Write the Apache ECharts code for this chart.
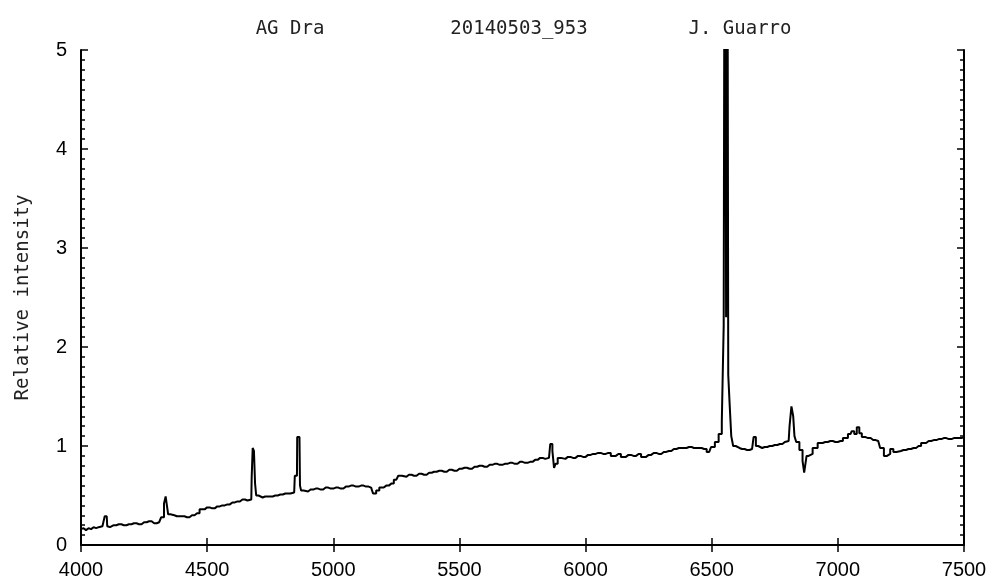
<!DOCTYPE html>
<html>
<head>
<meta charset="utf-8">
<script src="https://cdn.jsdelivr.net/npm/echarts@6/dist/echarts.min.js"></script>
<style>
  html, body { margin: 0; padding: 0; background: #fff; }
  #main { width: 992px; height: 583px; }
</style>
</head>
<body>
<div id="main"></div>
<script>
// spectrum (wavelength in Angstrom, relative intensity)
var wavelength = [
  4000,4010,4020,4030,4040,4050,4060,4070,4085,4092,4096,4102,4106,4115,4130,4150,4170,4190,4210,4230,
  4250,4270,4290,4310,4325,4333,4338,4343,4348,4360,4380,4400,4420,4440,4460,4480,4500,4520,4540,4560,
  4580,4600,4620,4640,4660,4675,4678,4683,4688,4692,4697,4710,4730,4750,4770,4790,4810,4830,4845,4850,
  4856,4858,4866,4870,4875,4890,4910,4930,4950,4970,4990,5010,5030,5050,5070,5090,5110,5130,5150,5165,
  5175,5190,5210,5230,5250,5265,5280,5300,5320,5340,5360,5380,5400,5420,5440,5460,5480,5500,5520,5540,
  5560,5580,5600,5620,5640,5660,5680,5700,5720,5740,5760,5780,5800,5820,5840,5855,5865,5872,5878,5884,
  5895,5910,5930,5950,5970,5990,6010,6030,6050,6070,6090,6110,6130,6150,6170,6190,6210,6230,6250,6270,
  6290,6310,6330,6350,6370,6390,6410,6430,6450,6470,6490,6505,6520,6535,6545,6550,6555,6559,6563,6568,
  6575,6580,6590,6600,6620,6640,6660,6672,6678,6690,6710,6730,6750,6770,6790,6805,6812,6820,6826,6830,
  6840,6855,6865,6868,6874,6878,6890,6910,6930,6950,6970,6990,7010,7030,7050,7060,7070,7080,7090,7100,
  7120,7140,7160,7175,7190,7200,7215,7225,7240,7260,7280,7300,7320,7340,7360,7380,7400,7420,7440,7460,
  7480,7500
];
var intensity = [
  0.16,0.17,0.15,0.17,0.16,0.18,0.17,0.18,0.19,0.20,0.29,0.29,0.19,0.18,0.20,0.21,0.20,0.21,0.22,0.21,
  0.23,0.24,0.22,0.23,0.28,0.42,0.49,0.40,0.31,0.30,0.29,0.29,0.28,0.30,0.32,0.36,0.38,0.37,0.39,0.40,
  0.41,0.43,0.44,0.46,0.45,0.46,0.68,0.98,0.95,0.62,0.50,0.48,0.49,0.49,0.50,0.51,0.52,0.52,0.53,0.70,
  0.70,1.09,1.09,0.60,0.55,0.54,0.56,0.57,0.56,0.58,0.57,0.58,0.57,0.59,0.60,0.59,0.60,0.59,0.58,0.52,
  0.55,0.58,0.60,0.62,0.66,0.70,0.69,0.71,0.70,0.72,0.71,0.73,0.74,0.75,0.74,0.76,0.75,0.77,0.78,0.77,
  0.79,0.80,0.79,0.81,0.82,0.81,0.82,0.83,0.82,0.84,0.83,0.84,0.86,0.88,0.87,0.88,1.02,0.95,0.78,0.82,
  0.88,0.87,0.89,0.88,0.90,0.89,0.91,0.92,0.93,0.92,0.93,0.90,0.92,0.89,0.91,0.90,0.92,0.89,0.91,0.93,
  0.92,0.94,0.95,0.97,0.98,0.98,0.99,0.98,0.98,0.97,0.94,0.99,1.04,1.12,1.25,2.22,9.00,2.30,9.00,1.72,
  1.40,1.10,1.00,0.98,0.97,0.96,0.97,1.09,1.00,0.98,0.99,1.00,1.01,1.02,1.04,1.05,1.20,1.40,1.30,1.10,
  1.04,0.96,0.85,0.73,0.73,0.90,0.92,0.98,1.03,1.04,1.05,1.04,1.05,1.08,1.12,1.15,1.12,1.19,1.13,1.09,
  1.08,1.06,1.05,0.98,0.90,0.92,0.97,0.94,0.95,0.96,0.97,0.98,1.00,1.03,1.05,1.06,1.07,1.08,1.07,1.08,
  1.08,1.09
];
var titleParts = ['AG Dra', '20140503_953', 'J. Guarro'];
var xTicks = [4000, 4500, 5000, 5500, 6000, 6500, 7000, 7500];

var points = wavelength.map(function (w, i) { return [w, intensity[i]]; });

var myChart = echarts.init(document.getElementById('main'));

var mono = 'DejaVu Sans Mono';
var frame = { lineStyle: { color: '#000', width: 2 } };
var tick = { inside: true, length: 7, lineStyle: { color: '#000', width: 1.5 } };
var minor = { show: true, splitNumber: 10, length: 4, lineStyle: { color: '#000', width: 1.5 } };
var titleStyle = { fontFamily: mono, fontSize: 19, fontWeight: 'normal', color: '#222' };

myChart.setOption({
    backgroundColor: '#fff',
    animation: false,
    title: [
        { text: titleParts[0], left: 285, top: 15, textAlign: 'center', textStyle: titleStyle },
        { text: titleParts[1], left: 514, top: 15, textAlign: 'center', textStyle: titleStyle },
        { text: titleParts[2], left: 735, top: 15, textAlign: 'center', textStyle: titleStyle }
    ],
    grid: { left: 81, right: 28, top: 50, bottom: 38 },
    xAxis: [{
        type: 'value', min: xTicks[0], max: xTicks[xTicks.length - 1], interval: 500,
        axisLine: frame,
        axisTick: tick,
        axisLabel: {
            margin: 15, color: '#000', fontSize: 20, fontFamily: 'Liberation Sans',
            formatter: function (v) { return String(v); }
        },
        splitLine: { show: false }
    }, {
        type: 'value', position: 'top', min: 4000, max: 7500, interval: 500,
        axisLine: frame,
        axisTick: tick,
        axisLabel: { show: false },
        splitLine: { show: false }
    }],
    yAxis: [{
        type: 'value', min: 0, max: 5, interval: 1,
        name: 'Relative intensity', nameLocation: 'middle', nameGap: 48,
        nameTextStyle: { fontFamily: mono, fontSize: 19, color: '#222' },
        axisLine: frame,
        axisTick: tick,
        minorTick: minor,
        axisLabel: { margin: 14, color: '#000', fontSize: 20, fontFamily: 'Liberation Sans' },
        splitLine: { show: false }
    }, {
        type: 'value', position: 'right', min: 0, max: 5, interval: 1,
        axisLine: frame,
        axisTick: tick,
        minorTick: minor,
        axisLabel: { show: false },
        splitLine: { show: false }
    }],
    series: [{
        type: 'line',
        data: points,
        xAxisIndex: 0,
        yAxisIndex: 0,
        step: 'middle',
        showSymbol: false,
        clip: true,
        lineStyle: { color: '#000', width: 2 }
    }]
});
</script>
</body>
</html>
